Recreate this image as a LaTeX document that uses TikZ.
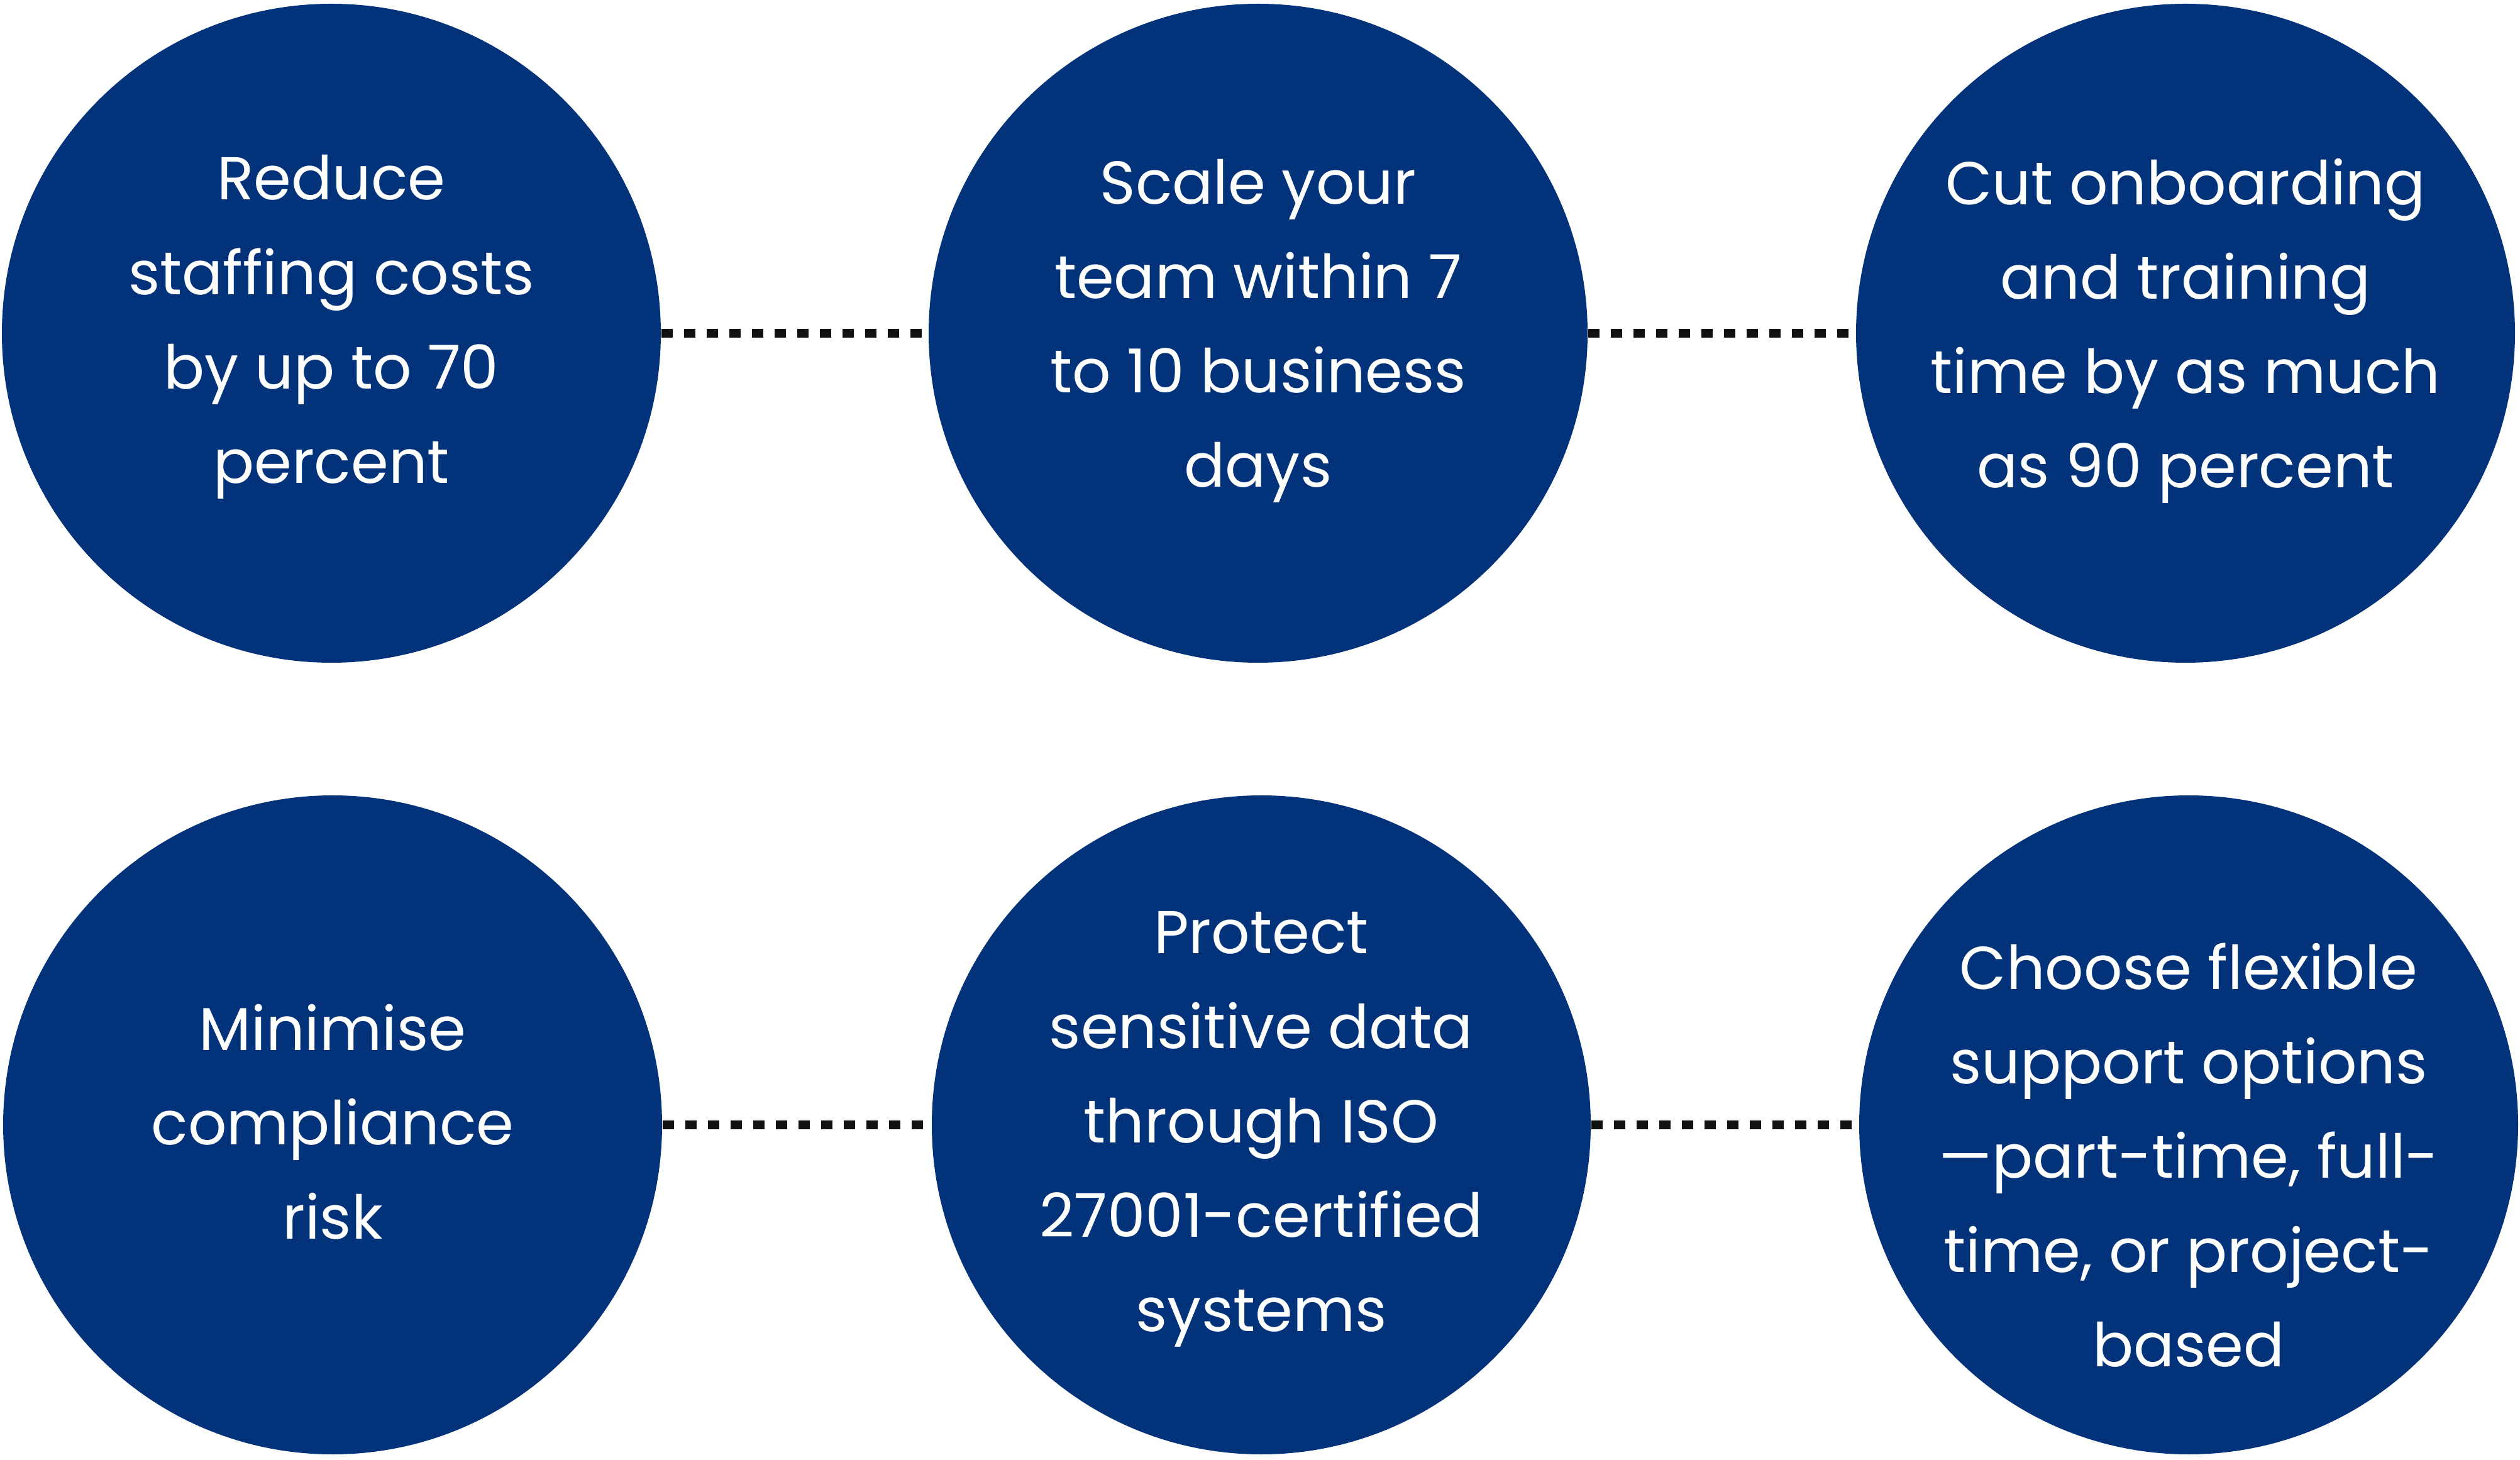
\documentclass[tikz,border=0pt]{standalone}
\usepackage{fontspec}
\setmainfont{Poppins}
\definecolor{benefitblue}{RGB}{2,51,122}
\definecolor{dotblack}{RGB}{17,17,17}
\tikzset{
  benefit/.style={circle, fill=benefitblue, inner sep=0pt, minimum size=10.48cm},
  say/.style={text=white, align=center, font=\fontsize{27.4}{42.7}\selectfont},
  link/.style={draw=dotblack, line width=3.8pt, dash pattern=on 0.18cm off 0.18cm}
}
\begin{document}
\begin{tikzpicture}

         \useasboundingbox (0,0) rectangle (40.08,-23.22);

         \node [benefit, label={[say, yshift=1mm]center:{Reduce\\staffing costs\\by up to 70\\percent}}]            (reduce)     at (5.27,-5.30)  {};
         \node [benefit, label={[say, yshift=0.4mm]center:{Scale your\\team within 7\\to 10 business\\days}}]     (scaleteam)  at (20.01,-5.30) {};
         \node [benefit, label={[say, yshift=0.4mm]center:{Cut onboarding\\and training\\time by as much\\as 90 percent}}] (onboard) at (34.76,-5.30) {};

         \node [benefit, label={[say, yshift=0.5mm]center:{Minimise\\compliance\\risk}}]                            (compliance) at (5.29,-17.89)  {};
         \node [benefit, label={[say, yshift=-0.7mm]center:{Protect\\sensitive data\\through ISO\\27001-certified\\systems}}] (protect) at (20.06,-17.89) {};
         \node [benefit, label={[say, yshift=-4.8mm]center:{Choose flexible\\support options\\—part-time, full-\\time, or project-\\based}}] (options) at (34.81,-17.89) {};

         \draw [link] (reduce) -- (scaleteam);
         \draw [link] (scaleteam) -- (onboard);
         \draw [link] (compliance) -- (protect);
         \draw [link] (protect) -- (options);

        \end{tikzpicture}
\end{document}
